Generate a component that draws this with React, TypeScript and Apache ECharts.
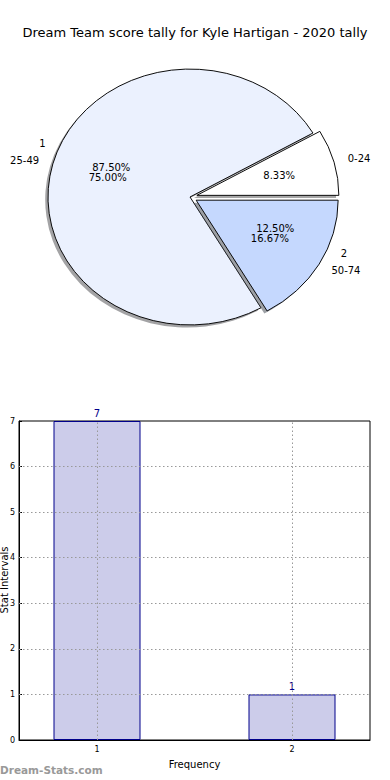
import React, { useEffect, useRef } from "react";
import * as echarts from "echarts";

// ---- data ----
const TITLE = "Dream Team score tally for Kyle Hartigan - 2020 tally";
const PIE_A_LABELS = ["0-24", "25-49", "50-74"];
const PIE_A_VALUES = [1, 9, 2];
const PIE_A_EXPLODE = [0.05, 0, 0.05];
const PIE_B_LABELS = ["1", "2"];
const PIE_B_VALUES = [7, 1];
const PIE_B_EXPLODE = [0, 0.05];
const BAR_X = [1, 2];
const BAR_VALUES = [7, 1];
const Y_TICKS = [0, 1, 2, 3, 4, 5, 6, 7];

// ---- style / layout ----
const PIE_A_COLORS = ["#ffffff", "#ebf1fe", "#c5d8fe"];
const FONT = "DejaVu Sans";
const CX = 190;
const CY = 197;
const RX = 142;
const RY = 128;
const K = RY / RX;

function darken(hex: string) {
  const n = parseInt(hex.slice(1), 16);
  const r = Math.round(((n >> 16) & 255) * 0.3);
  const g = Math.round(((n >> 8) & 255) * 0.3);
  const b = Math.round((n & 255) * 0.3);
  return `rgb(${r},${g},${b})`;
}

function angles(values: number[]) {
  const total = values.reduce((a, b) => a + b, 0);
  let acc = 0;
  return values.map((v) => {
    const a0 = (acc / total) * Math.PI * 2;
    acc += v;
    const a1 = (acc / total) * Math.PI * 2;
    return { a0, a1, mid: (a0 + a1) / 2, pct: (v / total) * 100 };
  });
}

const ANG_A = angles(PIE_A_VALUES);
const ANG_B = angles(PIE_B_VALUES);

function labelTexts(label: string, ang: { mid: number; pct: number }, e: number) {
  const c = Math.cos(ang.mid);
  const s = Math.sin(ang.mid);
  const lx = CX + (1.1 + e) * RX * c;
  const ly = CY - (1.1 + e) * RY * s;
  const px = CX + (0.6 + e) * RX * c;
  const py = CY - (0.6 + e) * RY * s;
  return [
    {
      type: "text",
      x: lx,
      y: ly,
      style: {
        text: label,
        fontSize: 10,
        fontFamily: FONT,
        fill: "#000",
        align: c > 0 ? "left" : "right",
        verticalAlign: "middle",
      },
    },
    {
      type: "text",
      x: px,
      y: py,
      style: {
        text: ang.pct.toFixed(2) + "%",
        fontSize: 10,
        fontFamily: FONT,
        fill: "#000",
        align: "center",
        verticalAlign: "middle",
      },
    },
  ];
}

export default function App() {
  const ref = useRef<HTMLDivElement>(null);
  useEffect(() => {
    if (!ref.current) return;
    const chart = echarts.init(ref.current, undefined, { renderer: "svg" });
    const option: any = {
      animation: false,
      backgroundColor: "#fff",
      title: {
        text: TITLE,
        left: "center",
        top: 21,
        textStyle: { fontSize: 13, fontWeight: "normal", fontFamily: FONT, color: "#000" },
      },
      grid: {
        left: 19,
        right: 20,
        top: 421,
        bottom: 40,
        containLabel: false,
        outerBoundsMode: "none",
        show: true,
        borderColor: "#000",
        borderWidth: 1,
      },
      xAxis: {
        type: "value",
        min: 0.6,
        max: 2.4,
        name: "Frequency",
        nameLocation: "middle",
        nameGap: 19,
        nameTextStyle: { fontSize: 10, fontFamily: FONT, color: "#000" },
        axisLine: { show: true, lineStyle: { color: "#000" } },
        axisTick: { show: true, inside: true, length: 3, customValues: BAR_X, lineStyle: { color: "#000" } },
        axisLabel: { customValues: BAR_X, fontSize: 8, fontFamily: FONT, color: "#000", margin: 5 },
        splitLine: { show: false },
      },
      yAxis: {
        type: "value",
        min: 0,
        max: 7,
        interval: 1,
        axisLine: { show: true, lineStyle: { color: "#000" } },
        axisTick: { show: true, inside: true, length: 3, lineStyle: { color: "#000" } },
        axisLabel: { fontSize: 8, fontFamily: FONT, color: "#000", margin: 4 },
        splitLine: { show: false },
      },
      graphic: [
        {
          type: "text",
          x: 4,
          y: 580,
          rotation: Math.PI / 2,
          style: {
            text: "Stat Intervals",
            fontSize: 10,
            fontFamily: FONT,
            fill: "#000",
            align: "center",
            verticalAlign: "middle",
          },
        },
        {
          type: "text",
          left: 0,
          top: 764,
          style: { text: "Dream-Stats.com", fontSize: 10.5, fontFamily: FONT, fill: "#999999", fontWeight: "bold" },
        },
      ],
      series: [
        {
          type: "custom",
          coordinateSystem: "none",
          silent: true,
          data: PIE_A_VALUES,
          renderItem: (params: any) => {
            const i = params.dataIndex;
            const ang = ANG_A[i];
            const e = PIE_A_EXPLODE[i];
            const ox = e * RX * Math.cos(ang.mid);
            const oy = -e * RX * Math.sin(ang.mid);
            const shape = (dx: number, dy: number) => ({
              cx: ox + dx,
              cy: oy + dy,
              r0: 0,
              r: RX,
              startAngle: -ang.a1,
              endAngle: -ang.a0,
              clockwise: true,
            });
            return {
              type: "group",
              children: [
                {
                  type: "group",
                  x: CX,
                  y: CY,
                  scaleY: K,
                  children: [
                    {
                      type: "sector",
                      shape: shape(-2.8, 2.6 / K),
                      style: { fill: darken(PIE_A_COLORS[i]), opacity: 0.5 },
                    },
                    {
                      type: "sector",
                      shape: shape(0, 0),
                      style: { fill: PIE_A_COLORS[i], stroke: "#000", lineWidth: 1, strokeNoScale: true },
                    },
                  ],
                },
                ...labelTexts(PIE_A_LABELS[i], ang, e),
              ],
            };
          },
        },
        {
          type: "custom",
          coordinateSystem: "none",
          silent: true,
          z: 5,
          data: PIE_B_VALUES,
          renderItem: (params: any) => {
            const i = params.dataIndex;
            return {
              type: "group",
              children: labelTexts(PIE_B_LABELS[i], ANG_B[i], PIE_B_EXPLODE[i]),
            };
          },
        },
        {
          type: "bar",
          data: BAR_X.map((x, i) => [x, BAR_VALUES[i]]),
          barWidth: 87,
          itemStyle: { color: "#ccccea", borderColor: "#00008b", borderWidth: 1 },
          label: {
            show: true,
            position: "top",
            distance: 3,
            color: "#00008b",
            fontSize: 10,
            fontFamily: FONT,
          },
          markLine: {
            silent: true,
            symbol: "none",
            label: { show: false },
            lineStyle: { type: [1.5, 2.5], color: "#999999", width: 1, opacity: 1 },
            emphasis: { disabled: true },
            data: [
              ...BAR_X.map((x) => ({ xAxis: x })),
              ...Y_TICKS.slice(1, -1).map((y) => ({ yAxis: y })),
            ],
          },
        },
      ],
    };
    chart.setOption(option);
    return () => chart.dispose();
  }, []);
  return (
    <div
      ref={ref}
      style={{ position: "fixed", left: 0, top: 0, width: 390, height: 780, background: "#fff" }}
    />
  );
}
